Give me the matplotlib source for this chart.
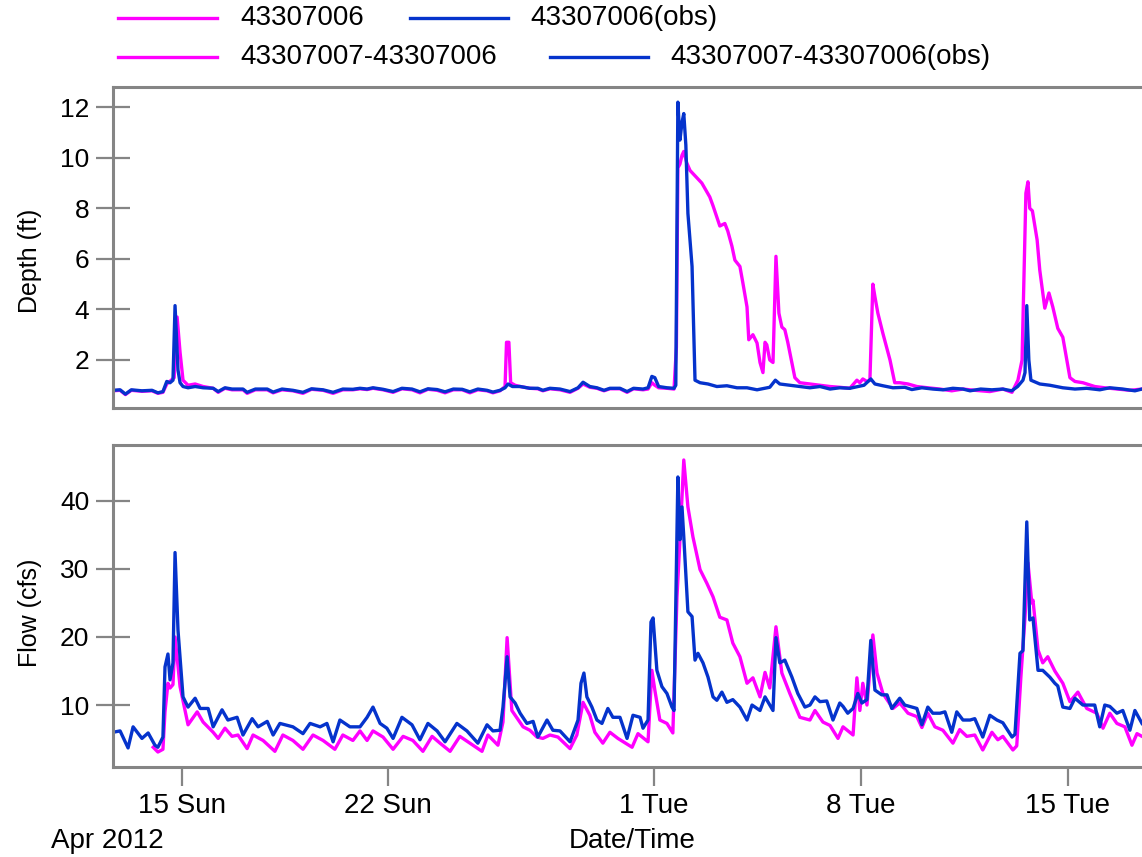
import pandas as pd
import numpy as np
import matplotlib
matplotlib.use('Agg')
import matplotlib.pyplot as plt
import matplotlib.dates as mdates
from matplotlib.lines import Line2D
from matplotlib.ticker import FuncFormatter

plt.rcParams['font.family'] = ['Liberation Sans', 'DejaVu Sans']

# times are days since 2012-04-12 00:00
start = pd.Timestamp('2012-04-12')
x_min_day = 0.68
x_max_day = 35.51

tick_dates = ['2012-04-15', '2012-04-22', '2012-05-01', '2012-05-08', '2012-05-15']
depth_ticks = [2, 4, 6, 8, 10, 12]
flow_ticks = [10, 20, 30, 40]

# Depth, model 43307006
depth_sim_days = [0.68, 0.92, 1.10, 1.30, 1.66, 2.00, 2.20, 2.37, 2.50, 2.65, 2.75, 2.85, 2.95, 3.05,
                  3.22, 3.46, 3.73, 4.07, 4.24, 4.47, 4.71, 5.08, 5.22, 5.50, 5.90, 6.10, 6.40, 6.77,
                  7.11, 7.40, 7.79, 8.13, 8.46, 8.80, 9.04, 9.28, 9.48, 9.82, 10.16, 10.46, 10.80,
                  11.07, 11.34, 11.65, 11.92, 12.20, 12.50, 12.76, 13.03, 13.34, 13.54, 13.78, 13.95,
                  14.00, 14.08, 14.14, 14.29, 14.46, 14.79, 15.06, 15.23, 15.47, 15.81, 16.15, 16.42,
                  16.59, 16.82, 17.06, 17.30, 17.50, 17.84, 18.08, 18.30, 18.62, 18.79, 18.92, 19.02,
                  19.15, 19.43, 19.67, 19.75, 19.80, 19.87, 19.94, 20.00, 20.10, 20.21, 20.45, 20.61,
                  20.78, 20.88, 20.99, 21.12, 21.22, 21.39, 21.49, 21.63, 21.73, 21.90, 22.00, 22.14,
                  22.20, 22.34, 22.48, 22.58, 22.68, 22.75, 22.81, 22.91, 23.02, 23.12, 23.22, 23.32,
                  23.42, 23.52, 23.76, 23.93, 24.27, 24.61, 24.95, 25.28, 25.62, 25.86, 25.96, 26.06,
                  26.20, 26.30, 26.40, 26.47, 26.57, 26.74, 26.98, 27.14, 27.31, 27.59, 27.89, 28.26,
                  28.67, 29.07, 29.45, 29.85, 30.36, 30.80, 31.11, 31.31, 31.45, 31.58, 31.65, 31.71,
                  31.80, 31.96, 32.05, 32.22, 32.36, 32.49, 32.66, 32.83, 33.07, 33.24, 33.51, 33.91,
                  34.25, 34.66, 35.10, 35.51]
depth_sim_ft = [0.78, 0.80, 0.63, 0.80, 0.76, 0.78, 0.68, 0.72, 1.05, 1.2, 1.3, 3.7, 2.3, 1.2,
                1.0, 1.05, 0.95, 0.88, 0.72, 0.88, 0.82, 0.82, 0.68, 0.82, 0.82, 0.70, 0.82, 0.78,
                0.68, 0.84, 0.80, 0.68, 0.82, 0.82, 0.86, 0.83, 0.88, 0.82, 0.72, 0.86, 0.82,
                0.70, 0.84, 0.80, 0.70, 0.82, 0.82, 0.70, 0.82, 0.78, 0.70, 0.78, 0.95,
                2.7, 2.7, 1.1, 1.0, 0.95, 0.88, 0.86, 0.78, 0.86, 0.82, 0.72, 0.88,
                1.05, 0.92, 0.88, 0.78, 0.86, 0.86, 0.72, 0.86, 0.82, 0.85, 1.1, 1.0,
                0.9, 0.88, 0.85, 2.5, 9.6, 9.75, 10.1, 10.25, 9.8, 9.5, 9.2, 9.0,
                8.65, 8.45, 8.1, 7.65, 7.3, 7.4, 7.1, 6.5, 5.95, 5.7, 5.05, 4.1,
                2.8, 3.0, 2.67, 1.9, 1.5, 2.7, 2.6, 2.0, 1.9, 6.1, 3.85, 3.3,
                3.2, 2.7, 1.3, 1.1, 1.05, 1.0, 0.95, 0.92, 0.88, 1.2, 1.1, 1.25,
                1.15, 1.2, 5.0, 4.5, 3.85, 3.05, 2.0, 1.1, 1.1, 1.05, 0.95, 0.9,
                0.85, 0.78, 0.85, 0.80, 0.75, 0.85, 0.72, 1.2, 2.0, 8.6, 9.05, 8.0,
                7.9, 6.75, 5.55, 4.05, 4.65, 4.1, 3.25, 2.9, 1.3, 1.15, 1.1, 0.95,
                0.9, 0.85, 0.8, 0.85]

# Depth, observed 43307006(obs)
depth_obs_days = [0.68, 0.92, 1.10, 1.30, 1.66, 2.00, 2.20, 2.37, 2.50, 2.61, 2.71, 2.78, 2.88, 2.95,
                  3.05, 3.22, 3.46, 3.73, 4.07, 4.24, 4.47, 4.71, 5.08, 5.22, 5.50, 5.90, 6.10, 6.40,
                  6.77, 7.11, 7.40, 7.79, 8.13, 8.46, 8.80, 9.04, 9.28, 9.48, 9.82, 10.16, 10.46,
                  10.80, 11.07, 11.34, 11.65, 11.92, 12.20, 12.50, 12.76, 13.03, 13.34, 13.54, 13.78,
                  13.95, 14.05, 14.20, 14.46, 14.79, 15.06, 15.23, 15.47, 15.81, 16.15, 16.42, 16.59,
                  16.82, 17.06, 17.30, 17.50, 17.84, 18.08, 18.30, 18.62, 18.79, 18.92, 19.02, 19.15,
                  19.43, 19.67, 19.73, 19.80, 19.87, 19.94, 20.00, 20.07, 20.14, 20.28, 20.38, 20.55,
                  20.82, 21.12, 21.46, 21.80, 22.14, 22.48, 22.81, 22.91, 23.10, 23.25, 23.59, 23.93,
                  24.27, 24.61, 24.95, 25.28, 25.62, 25.89, 26.10, 26.33, 26.47, 26.74, 27.08, 27.48,
                  27.72, 28.06, 28.43, 28.77, 29.11, 29.45, 29.69, 30.05, 30.43, 30.80, 31.10, 31.30,
                  31.48, 31.55, 31.61, 31.68, 31.75, 32.05, 32.39, 32.83, 33.24, 33.64, 34.08, 34.42,
                  34.86, 35.27, 35.51]
depth_obs_ft = [0.80, 0.82, 0.65, 0.82, 0.78, 0.80, 0.70, 0.75, 1.15, 1.10, 1.20, 4.15, 1.6, 1.1,
                0.95, 0.90, 0.95, 0.90, 0.88, 0.75, 0.90, 0.85, 0.85, 0.72, 0.85, 0.85, 0.73, 0.85,
                0.80, 0.72, 0.86, 0.82, 0.72, 0.85, 0.84, 0.88, 0.85, 0.90, 0.84, 0.75, 0.88,
                0.85, 0.74, 0.86, 0.83, 0.74, 0.85, 0.84, 0.74, 0.85, 0.80, 0.73, 0.80,
                0.90, 1.05, 0.95, 0.95, 0.88, 0.88, 0.80, 0.88, 0.85, 0.75, 0.90, 1.12,
                0.95, 0.90, 0.80, 0.88, 0.88, 0.75, 0.88, 0.85, 0.90, 1.35, 1.30, 0.95,
                0.90, 0.88, 1.0, 12.2, 10.7, 11.4, 11.75, 10.5, 7.8, 5.7, 1.2, 1.1,
                1.05, 0.95, 0.98, 0.90, 0.90, 0.82, 0.90, 0.92, 1.2, 1.05, 1.0, 0.95,
                0.90, 0.95, 0.85, 0.90, 0.88, 0.95, 1.0, 1.25, 1.05, 0.98, 0.90, 0.92,
                0.83, 0.90, 0.85, 0.82, 0.88, 0.85, 0.78, 0.85, 0.82, 0.85, 0.78, 0.95,
                1.2, 1.5, 4.15, 2.0, 1.2, 1.05, 1.0, 0.90, 0.85, 0.88, 0.82, 0.90,
                0.85, 0.78, 0.85]

# Flow, model 43307007-43307006
flow_sim_days = [2.04, 2.20, 2.37, 2.44, 2.54, 2.61, 2.71, 2.78, 2.95, 3.22, 3.53, 3.73, 4.07, 4.24,
                 4.47, 4.71, 4.91, 5.22, 5.42, 5.76, 6.16, 6.43, 6.77, 7.11, 7.45, 7.79, 8.19, 8.46,
                 8.80, 9.04, 9.28, 9.48, 9.82, 10.16, 10.50, 10.83, 11.17, 11.48, 11.75, 12.09, 12.42,
                 12.76, 13.17, 13.37, 13.71, 13.88, 14.02, 14.18, 14.56, 14.79, 15.03, 15.23, 15.47,
                 15.74, 16.15, 16.38, 16.59, 16.82, 16.99, 17.26, 17.50, 17.77, 18.25, 18.45, 18.79,
                 18.92, 19.02, 19.19, 19.43, 19.63, 19.77, 19.87, 20.00, 20.14, 20.31, 20.55, 20.78,
                 20.99, 21.22, 21.46, 21.66, 21.90, 22.14, 22.34, 22.58, 22.75, 22.91, 23.12, 23.32,
                 23.59, 23.93, 24.27, 24.44, 24.71, 24.95, 25.22, 25.39, 25.73, 25.86, 25.96, 26.06,
                 26.20, 26.40, 26.54, 26.74, 27.08, 27.31, 27.59, 27.89, 28.06, 28.26, 28.50, 28.77,
                 29.11, 29.34, 29.58, 29.85, 30.12, 30.43, 30.63, 30.80, 31.14, 31.27, 31.41, 31.55,
                 31.65, 31.78, 31.82, 31.99, 32.15, 32.32, 32.56, 32.83, 33.07, 33.34, 33.64, 33.98,
                 34.19, 34.42, 34.66, 34.93, 35.17, 35.34, 35.51]
flow_sim_cfs = [3.8, 3.1, 3.5, 9.0, 13.2, 12.5, 13.0, 20.0, 12.7, 7.1, 9.0, 7.5, 6.0, 5.1,
                6.6, 5.4, 5.6, 3.6, 5.6, 4.8, 3.2, 5.6, 4.8, 3.5, 5.6, 4.8, 3.5, 5.6,
                4.8, 6.2, 4.8, 6.2, 5.3, 3.5, 5.4, 4.8, 3.2, 5.4, 4.4, 3.2, 5.4,
                4.4, 3.2, 5.6, 4.1, 7.5, 19.9, 9.2, 6.8, 6.3, 5.3, 5.1, 5.6,
                5.3, 3.6, 5.6, 10.4, 8.5, 6.0, 4.4, 6.0, 5.1, 3.8, 5.8, 4.6,
                15.1, 12.2, 7.8, 7.3, 5.9, 25.9, 34.3, 46.0, 39.1, 34.7, 29.9, 27.9,
                25.9, 22.9, 22.5, 19.1, 17.1, 13.2, 14.0, 11.2, 14.8, 12.5, 21.5, 14.7,
                11.7, 8.2, 7.8, 9.2, 7.5, 7.0, 5.1, 6.8, 5.6, 14.0, 9.2, 13.2,
                10.0, 20.3, 14.7, 11.7, 9.5, 10.3, 8.8, 8.3, 6.7, 8.8, 6.8, 6.3,
                4.4, 6.4, 5.4, 5.6, 3.4, 6.0, 4.9, 5.4, 3.4, 4.0, 14.1, 22.9,
                30.9, 25.0, 25.4, 18.1, 16.2, 17.1, 15.0, 13.2, 10.5, 11.9, 9.5, 8.8,
                6.6, 8.8, 7.3, 6.8, 4.1, 5.8, 5.4]

# Flow, observed 43307007-43307006(obs)
flow_obs_days = [0.68, 0.92, 1.19, 1.36, 1.66, 1.87, 2.10, 2.20, 2.37, 2.44, 2.54, 2.61, 2.71, 2.78,
                 2.88, 3.05, 3.22, 3.46, 3.63, 3.90, 4.07, 4.37, 4.57, 4.88, 5.08, 5.39, 5.59, 5.90,
                 6.10, 6.33, 6.77, 7.11, 7.35, 7.69, 7.92, 8.13, 8.36, 8.70, 9.04, 9.28, 9.48, 9.72,
                 9.95, 10.16, 10.46, 10.80, 11.07, 11.34, 11.65, 11.92, 12.32, 12.66, 13.03, 13.34,
                 13.54, 13.78, 13.88, 14.02, 14.12, 14.29, 14.46, 14.69, 14.90, 15.06, 15.37, 15.57,
                 15.81, 16.15, 16.42, 16.52, 16.62, 16.72, 16.89, 17.06, 17.23, 17.43, 17.60, 17.84,
                 18.08, 18.28, 18.52, 18.62, 18.79, 18.89, 18.96, 19.09, 19.26, 19.43, 19.60, 19.67,
                 19.77, 19.80, 19.87, 19.94, 20.00, 20.14, 20.28, 20.38, 20.48, 20.65, 20.82, 20.99,
                 21.12, 21.29, 21.46, 21.66, 21.90, 22.14, 22.31, 22.58, 22.75, 22.91, 23.02, 23.12,
                 23.25, 23.42, 23.66, 23.86, 24.10, 24.27, 24.44, 24.61, 24.84, 25.05, 25.28, 25.39,
                 25.55, 25.73, 25.89, 26.03, 26.20, 26.33, 26.47, 26.70, 26.88, 27.04, 27.31, 27.48,
                 27.72, 27.89, 28.06, 28.26, 28.43, 28.67, 28.84, 29.07, 29.24, 29.45, 29.69, 29.85,
                 30.12, 30.36, 30.60, 30.80, 31.11, 31.21, 31.38, 31.48, 31.61, 31.71, 31.82, 31.99,
                 32.15, 32.39, 32.56, 32.66, 32.83, 33.07, 33.24, 33.51, 33.91, 34.08, 34.25, 34.42,
                 34.66, 34.86, 35.10, 35.27, 35.51]
flow_obs_cfs = [6.0, 6.2, 3.7, 6.8, 5.1, 5.9, 4.1, 3.8, 5.3, 15.6, 17.5, 13.7, 16.2, 32.4,
                21.0, 11.2, 9.7, 11.0, 9.5, 9.5, 6.8, 9.3, 7.8, 8.2, 5.6, 8.0, 6.8, 7.6,
                5.6, 7.3, 6.8, 5.8, 7.3, 6.8, 7.3, 4.6, 7.8, 6.8, 6.8, 8.2, 9.7, 7.3,
                6.6, 5.1, 8.2, 7.1, 4.9, 7.3, 6.2, 4.6, 7.3, 6.2, 4.4, 7.1,
                6.2, 6.3, 9.7, 17.1, 11.2, 10.3, 8.8, 7.3, 7.6, 5.3, 7.8, 6.3,
                6.2, 4.6, 7.8, 13.2, 14.7, 11.2, 9.7, 7.8, 7.3, 9.5, 8.2, 8.2,
                5.1, 8.5, 8.2, 6.6, 7.8, 22.2, 22.8, 15.1, 12.7, 11.7, 9.7, 9.2,
                35.7, 43.5, 34.3, 39.1, 34.7, 23.7, 23.0, 16.6, 17.6, 16.2, 14.1, 11.2,
                10.7, 11.9, 10.4, 10.8, 9.7, 7.8, 10.0, 9.2, 11.2, 10.0, 9.2, 19.9,
                16.2, 16.6, 14.1, 11.7, 9.7, 10.0, 11.2, 10.5, 10.6, 7.8, 10.3, 9.8,
                8.8, 9.5, 11.7, 10.3, 10.8, 19.5, 12.2, 11.5, 11.5, 9.5, 11.0, 10.0,
                9.7, 9.5, 7.1, 9.7, 8.8, 8.8, 9.0, 6.0, 9.0, 7.8, 7.8, 8.0,
                5.3, 8.5, 7.8, 7.4, 5.3, 5.7, 17.6, 18.0, 36.9, 22.5, 22.8, 15.1,
                15.1, 14.1, 13.2, 12.8, 9.7, 9.5, 11.0, 10.0, 10.0, 6.8, 10.0, 9.8,
                8.8, 9.2, 6.3, 9.2, 7.3]


def to_dates(days):
    return start + pd.to_timedelta(np.array(days), unit='D')


magenta = '#FF00FF'
blue = '#0533CC'
gray = '#858585'
lw = 2.4

fig = plt.figure(figsize=(11.42, 8.57), dpi=100)
ax1 = fig.add_axes([113 / 1142, 1 - 408 / 857, 1029 / 1142, 321 / 857])
ax2 = fig.add_axes([113 / 1142, 1 - 767 / 857, 1029 / 1142, 322 / 857])

ax1.plot(to_dates(depth_sim_days), depth_sim_ft, color=magenta, lw=lw)
ax1.plot(to_dates(depth_obs_days), depth_obs_ft, color=blue, lw=lw)
ax2.plot(to_dates(flow_sim_days), flow_sim_cfs, color=magenta, lw=lw)
ax2.plot(to_dates(flow_obs_days), flow_obs_cfs, color=blue, lw=lw)

xlim = (start + pd.Timedelta(days=x_min_day), start + pd.Timedelta(days=x_max_day))
for ax in (ax1, ax2):
    ax.set_xlim(xlim)
    ax.spines['right'].set_visible(False)
    for s in ('left', 'top', 'bottom'):
        ax.spines[s].set_color(gray)
        ax.spines[s].set_linewidth(2.2)
    ax.tick_params(axis='y', direction='inout', length=25, width=1.6, color=gray,
                   labelsize=19, pad=4.5)

ax1.set_ylim(0.1, 12.8)
ax1.set_yticks(depth_ticks)
ax1.tick_params(axis='x', bottom=False, labelbottom=False)
ax2.set_ylim(0.9, 48.2)
ax2.set_yticks(flow_ticks)

ax2.set_xticks(pd.to_datetime(tick_dates))
ax2.xaxis.set_major_formatter(FuncFormatter(
    lambda v, pos: f"{mdates.num2date(v).day} {mdates.num2date(v):%a}"))
ax2.tick_params(axis='x', direction='out', length=14, width=1.6, color=gray,
                labelsize=20, pad=5)

ax1.set_ylabel('Depth (ft)', fontsize=18, va='center')
ax1.yaxis.set_label_coords(-0.081, 0.458)
ax2.set_ylabel('Flow (cfs)', fontsize=18, va='center')
ax2.yaxis.set_label_coords(-0.081, 0.478)
ax2.set_xlabel('Date/Time', fontsize=20, va='center')
ax2.xaxis.set_label_coords((632 - 113) / 1029, -(841 - 767) / 322)
fig.text(107 / 1142, 1 - 841 / 857, 'Apr 2012', fontsize=20, ha='center', va='center')

# legend drawn by hand: two rows laid out like the original
legend_items = [
    ('43307006', magenta, 118, 217, 240, 18),
    ('43307006(obs)', blue, 410, 508, 530, 18),
    ('43307007-43307006', magenta, 118, 217, 240, 57),
    ('43307007-43307006(obs)', blue, 550, 648, 670, 57),
]
for label, col, x0, x1, xt, yy in legend_items:
    fy = 1 - yy / 857
    fig.add_artist(Line2D([x0 / 1142, x1 / 1142], [fy, fy], color=col, lw=lw,
                          transform=fig.transFigure))
    fig.text(xt / 1142, fy, label, fontsize=20, ha='left', va='center')

fig.savefig('out.png', dpi=100)
